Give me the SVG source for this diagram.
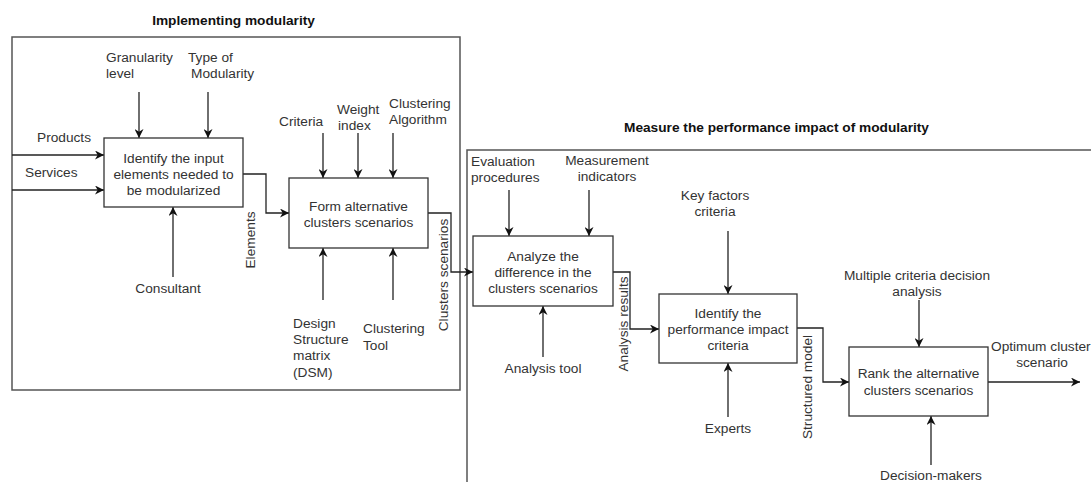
<svg xmlns="http://www.w3.org/2000/svg" width="1091" height="482" viewBox="0 0 1091 482">
<style>
text{font-family:"Liberation Sans",Arial,sans-serif;font-size:13.7px;fill:#333}
.t{font-weight:bold;fill:#111}
.m{text-anchor:middle}
.box{fill:#fff;stroke:#333;stroke-width:1.3}
.frame{fill:none;stroke:#555;stroke-width:1.5}
.c{fill:none;stroke:#222;stroke-width:1.3}
</style>
<defs>
<marker id="a" viewBox="0 0 10 10" refX="10" refY="5" markerWidth="9" markerHeight="9" markerUnits="userSpaceOnUse" orient="auto">
<path d="M0,0 L10,5 L0,10 L3,5 z" fill="#111"/>
</marker>
</defs>
<rect width="1091" height="482" fill="#fff"/>
<g id="frame-implementing">
<rect class="frame" x="12" y="37" width="448" height="353"/>
<text class="t m" x="233.5" y="25">Implementing modularity</text>
</g>
<g id="frame-measure">
<path class="frame" d="M467,482 V150 H1091"/>
<text class="t m" x="776.5" y="132">Measure the performance impact of modularity</text>
</g>
<g id="connectors">
<path class="c" d="M12,155 H104" marker-end="url(#a)"/>
<path class="c" d="M12,190 H104" marker-end="url(#a)"/>
<path class="c" d="M139,92 V138" marker-end="url(#a)"/>
<path class="c" d="M208,92 V138" marker-end="url(#a)"/>
<path class="c" d="M173,277 V207" marker-end="url(#a)"/>
<path class="c" d="M243,174 H266 V213 H289" marker-end="url(#a)"/>
<path class="c" d="M323,133 V178" marker-end="url(#a)"/>
<path class="c" d="M358,133 V178" marker-end="url(#a)"/>
<path class="c" d="M393,133 V178" marker-end="url(#a)"/>
<path class="c" d="M323,300 V248" marker-end="url(#a)"/>
<path class="c" d="M393,300 V248" marker-end="url(#a)"/>
<path class="c" d="M428,213 H451 V272 H473" marker-end="url(#a)"/>
<path class="c" d="M509,190 V236" marker-end="url(#a)"/>
<path class="c" d="M589,190 V236" marker-end="url(#a)"/>
<path class="c" d="M543,357 V306" marker-end="url(#a)"/>
<path class="c" d="M613,272 H630 V329 H659" marker-end="url(#a)"/>
<path class="c" d="M728,231 V294" marker-end="url(#a)"/>
<path class="c" d="M728,417 V363" marker-end="url(#a)"/>
<path class="c" d="M797,328 H823 V382 H849" marker-end="url(#a)"/>
<path class="c" d="M919,300 V347" marker-end="url(#a)"/>
<path class="c" d="M931,465 V416" marker-end="url(#a)"/>
<path class="c" d="M988,382 H1080" marker-end="url(#a)"/>
<text x="37" y="142">Products</text>
<text x="25" y="177">Services</text>
<text x="106" y="62">Granularity</text>
<text x="106" y="78">level</text>
<text x="188" y="62">Type of</text>
<text x="191" y="78">Modularity</text>
<text class="m" x="168" y="293">Consultant</text>
<text class="m" transform="translate(255,240) rotate(-90)">Elements</text>
<text x="279" y="126">Criteria</text>
<text x="337" y="114">Weight</text>
<text x="338" y="130">index</text>
<text x="389" y="108">Clustering</text>
<text x="389" y="124">Algorithm</text>
<text x="293" y="328">Design</text>
<text x="293" y="344">Structure</text>
<text x="293" y="360">matrix</text>
<text x="293" y="377">(DSM)</text>
<text x="363" y="333">Clustering</text>
<text x="363" y="350">Tool</text>
<text class="m" transform="translate(448,275) rotate(-90)">Clusters scenarios</text>
<text x="471" y="166">Evaluation</text>
<text x="471" y="182">procedures</text>
<text class="m" x="607" y="165">Measurement</text>
<text class="m" x="607" y="181">indicators</text>
<text class="m" x="543" y="373">Analysis tool</text>
<text class="m" transform="translate(628,324) rotate(-90)">Analysis results</text>
<text class="m" x="715" y="200">Key factors</text>
<text class="m" x="715" y="216">criteria</text>
<text class="m" x="728" y="433">Experts</text>
<text class="m" transform="translate(812,387) rotate(-90)">Structured model</text>
<text class="m" x="917" y="280">Multiple criteria decision</text>
<text class="m" x="917" y="296">analysis</text>
<text class="m" x="931" y="480">Decision-makers</text>
<text x="991" y="351">Optimum cluster</text>
<text class="m" x="1042" y="367">scenario</text>
</g>
<g id="node-identify-input">
<rect class="box" x="104" y="138" width="139" height="69"/>
<text class="m" x="173.5" y="163">Identify the input</text>
<text class="m" x="173.5" y="179">elements needed to</text>
<text class="m" x="173.5" y="195">be modularized</text>
</g>
<g id="node-form-clusters">
<rect class="box" x="289" y="178" width="139" height="70"/>
<text class="m" x="358.5" y="211">Form alternative</text>
<text class="m" x="358.5" y="227">clusters scenarios</text>
</g>
<g id="node-analyze">
<rect class="box" x="473" y="236" width="140" height="70"/>
<text class="m" x="543" y="261">Analyze the</text>
<text class="m" x="543" y="277">difference in the</text>
<text class="m" x="543" y="293">clusters scenarios</text>
</g>
<g id="node-identify-impact">
<rect class="box" x="659" y="294" width="138" height="69"/>
<text class="m" x="728" y="318">Identify the</text>
<text class="m" x="728" y="334">performance impact</text>
<text class="m" x="728" y="350">criteria</text>
</g>
<g id="node-rank">
<rect class="box" x="849" y="347" width="139" height="69"/>
<text class="m" x="918.5" y="378">Rank the alternative</text>
<text class="m" x="918.5" y="395">clusters scenarios</text>
</g>
</svg>
